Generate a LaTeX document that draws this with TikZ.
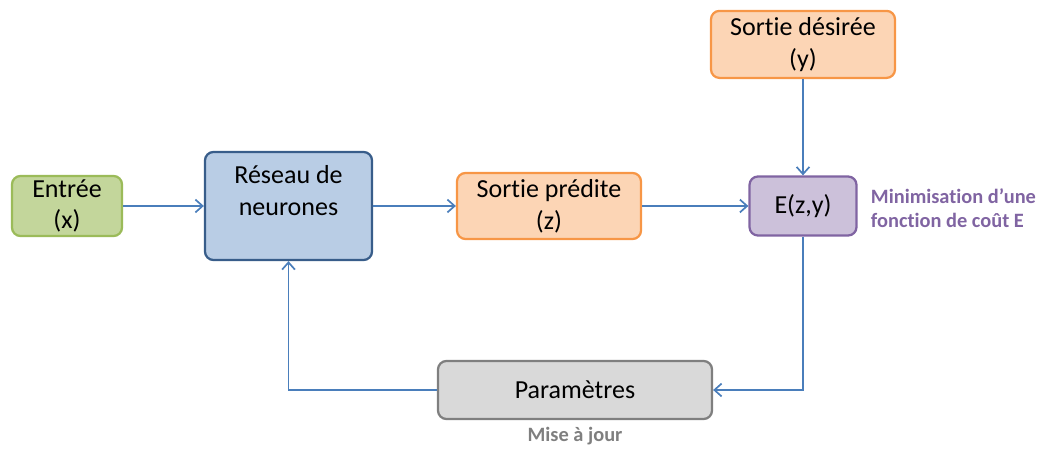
\documentclass[tikz,border=0pt]{standalone}
\usepackage{fontspec}
\setmainfont{Carlito}[Ligatures=NoCommon]
\usepackage{tikz}
\usetikzlibrary{arrows.meta, positioning}
\usepackage{xcolor}
\definecolor{linkblue}{HTML}{4A7EBB}
\definecolor{greenfill}{HTML}{C3D69B}
\definecolor{greenline}{HTML}{9BBB59}
\definecolor{bluefill}{HTML}{B9CDE5}
\definecolor{blueline}{HTML}{385D8A}
\definecolor{orangefill}{HTML}{FCD5B5}
\definecolor{orangeline}{HTML}{F79646}
\definecolor{purplefill}{HTML}{CCC1DA}
\definecolor{purpleline}{HTML}{8064A2}
\definecolor{grayfill}{HTML}{D9D9D9}
\definecolor{grayline}{HTML}{7F7F7F}

\begin{document}
\begin{tikzpicture}[
  block/.style={rectangle, draw, line width=1.6pt, rounded corners=6pt, align=center, inner sep=0pt, font=\fontsize{18.5}{22.5}\selectfont},
  arrow/.style={-{Straight Barb[length=1.8mm, width=3.2mm]}, draw=linkblue, line width=1.2pt},
  note/.style={font=\fontsize{14.5}{17.5}\selectfont\bfseries, align=left}
]
\useasboundingbox (0,0) rectangle (25.925,11.2);

% Blocs principaux
\node[block, fill=greenfill, draw=greenline, minimum width=2.75cm, minimum height=1.5cm] (ent) at (1.675,6.05) {Entrée\\(x)};
\node[block, fill=bluefill, draw=blueline, minimum width=4.175cm, minimum height=2.7cm] (res) at (7.2125,6.05) {Réseau de\\neurones\\ \mbox{}};
\node[block, fill=orangefill, draw=orangeline, minimum width=4.6cm, minimum height=1.65cm] (pred) at (13.725,6.05) {Sortie prédite\\(z)};
\node[block, fill=orangefill, draw=orangeline, minimum width=4.6cm, minimum height=1.675cm] (des) at (20.075,10.09) {Sortie désirée\\(y)};
\node[block, fill=purplefill, draw=purpleline, minimum width=2.675cm, minimum height=1.475cm] (err) at (20.075,6.05) {E(z,y)};
\node[block, fill=grayfill, draw=grayline, minimum width=6.85cm, minimum height=1.45cm] (par) at (14.375,1.45) {Paramètres};

% Textes
\node[note, text=purpleline, anchor=west] (mini) at (21.65,6.0) {Minimisation d’une\\fonction de coût E};
\node[note, text=grayline] (maj) at (14.375,0.3) {Mise à jour};

% Connexions
\draw[arrow] (ent) -- (res);
\draw[arrow] (res) -- (pred);
\draw[arrow] (pred) -- (err);
\draw[arrow] (des) -- (err);
\draw[arrow] (err.south) |- (par.east);
\draw[arrow] (par.west) -| (res.south);

\end{tikzpicture}
\end{document}
